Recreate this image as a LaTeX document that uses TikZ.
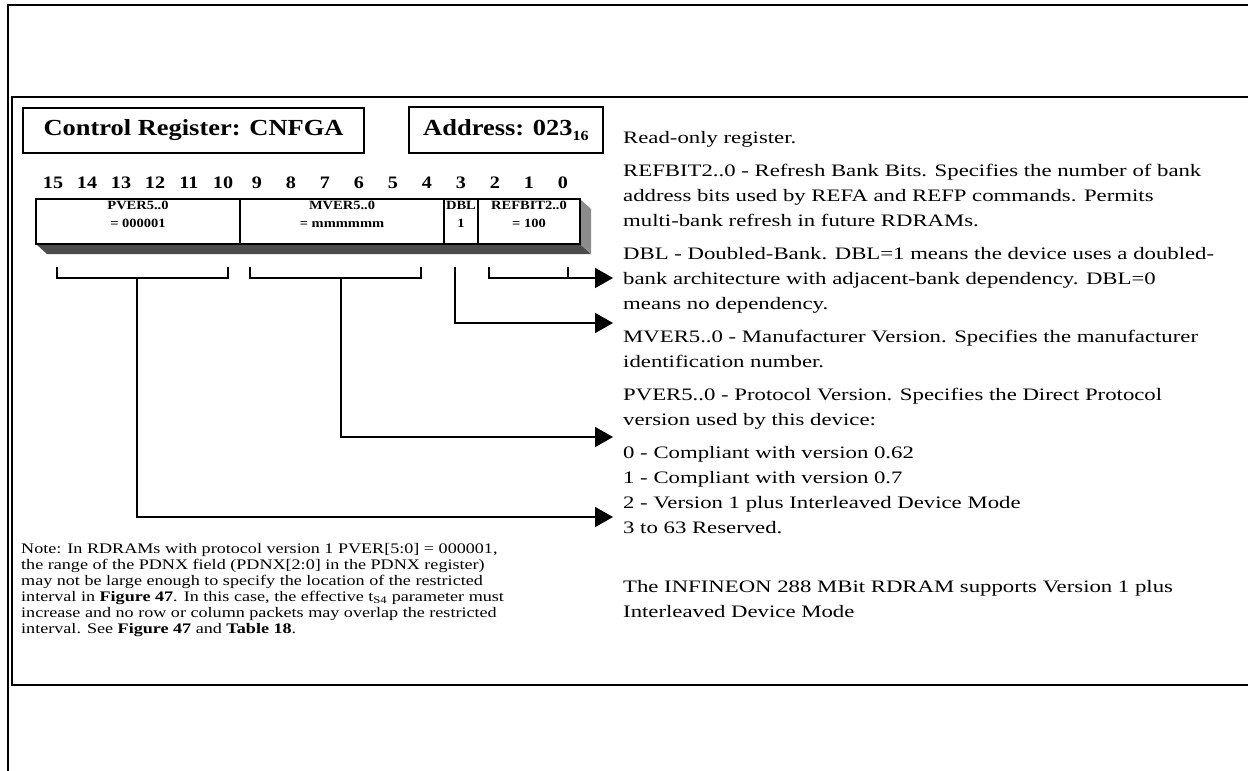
\documentclass[tikz,border=0pt]{standalone}
\usepackage{fontspec}
\setmainfont{Liberation Serif}
\newfontfamily\regfont[FakeStretch=1.3]{Liberation Serif}
\newfontfamily\notefont[FakeStretch=1.24]{Liberation Serif}
\newfontfamily\boldfont[FakeStretch=1.15]{Liberation Serif}
\usetikzlibrary{arrows.meta}
\definecolor{shadedark}{gray}{0.3}
\definecolor{shadelight}{gray}{0.55}

\begin{document}
\begin{tikzpicture}[x=1pt, y=-1pt,
    frame/.style={line width=2pt},
    titlebox/.style={draw, line width=1.8pt, inner sep=0pt, font=\boldfont\bfseries\fontsize{23}{23}\selectfont},
    bitnum/.style={inner sep=0pt, font=\boldfont\bfseries\fontsize{17.5}{17.5}\selectfont},
    field/.style={inner sep=0pt, align=center, font=\boldfont\bfseries\fontsize{12.6}{18}\selectfont},
    link/.style={line width=1.8pt},
    pointer/.style={line width=1.8pt, -{Triangle[length=18pt,width=20pt]}},
    desc/.style={anchor=base west, inner sep=0pt, font=\regfont\fontsize{17.5}{25}\selectfont},
    note/.style={anchor=base west, inner sep=0pt, font=\notefont\fontsize{14.6}{16}\selectfont}
]
    \useasboundingbox (0,0) rectangle (1248,771);

    % Frames
    \draw[frame] (1248,5) -- (7.5,5) -- (7.5,771);
    \draw[frame] (1248,97) -- (12,97) -- (12,685) -- (1248,685);

    % Title boxes
    \node[titlebox, minimum width=341pt, minimum height=45pt] (title) at (193.5,130.5) {Control Register: CNFGA};
    \node[titlebox, minimum width=194pt, minimum height=46pt] (address) at (506,130) {Address: 023\raisebox{-5pt}{\fontsize{14}{14}\selectfont 16}};

    % Bit numbers
    \foreach \b in {0,...,15} {
        \node[bitnum] (bit-\b) at ({53+(15-\b)*34},183) {\b};
    }

    % Register with shadow
    \fill[shadedark] (36,244) -- (580,244) -- (591,254) -- (47,254) -- cycle;
    \fill[shadelight] (580,199) -- (591,209) -- (591,254) -- (580,244) -- cycle;
    \draw[link] (36,199) rectangle (580,244);
    \foreach \x in {240,444,478} {
        \draw[link] (\x,199) -- (\x,244);
    }
    \foreach \name/\x/\txt in {pver/138/{PVER5..0\\= 000001}, mver/342/{MVER5..0\\= mmmmmm}, dbl/461/{DBL\\1}, refbit/529/{REFBIT2..0\\= 100}} {
        \node[field] (\name) at (\x,214) {\txt};
    }

    % Brackets
    \coordinate (pver-stem) at (137,278);
    \coordinate (mver-stem) at (341,278);
    \coordinate (dbl-stem) at (455,267);
    \coordinate (refbit-stem) at (489,267);
    \coordinate (pver-tip) at (613,517);
    \coordinate (mver-tip) at (613,437);
    \coordinate (dbl-tip) at (613,323);
    \coordinate (refbit-tip) at (613,278);
    \draw[link] (57,267) -- (57,278) -- (228,278) -- (228,267);
    \draw[link] (250,267) -- (250,278) -- (421,278) -- (421,267);
    \draw[link] (568,267) -- (568,278);

    % Arrows
    \draw[pointer] (refbit-stem) |- (refbit-tip);
    \draw[pointer] (dbl-stem) |- (dbl-tip);
    \draw[pointer] (mver-stem) |- (mver-tip);
    \draw[pointer] (pver-stem) |- (pver-tip);

    % Descriptions
    \foreach \i/\y/\txt in {
        1/143/{Read-only register.},
        2/176/{REFBIT2..0 - Refresh Bank Bits. Specifies the number of bank},
        3/201/{address bits used by REFA and REFP commands. Permits},
        4/226/{multi-bank refresh in future RDRAMs.},
        5/259/{DBL - Doubled-Bank. DBL=1 means the device uses a doubled-},
        6/284/{bank architecture with adjacent-bank dependency. DBL=0},
        7/309/{means no dependency.},
        8/342/{MVER5..0 - Manufacturer Version. Specifies the manufacturer},
        9/367/{identification number.},
        10/400/{PVER5..0 - Protocol Version. Specifies the Direct Protocol},
        11/425/{version used by this device:},
        12/458/{0 - Compliant with version 0.62},
        13/483/{1 - Compliant with version 0.7},
        14/508/{2 - Version 1 plus Interleaved Device Mode},
        15/533/{3 to 63 Reserved.},
        16/592/{The INFINEON 288 MBit RDRAM supports Version 1 plus},
        17/617/{Interleaved Device Mode}} {
        \node[desc] (desc-\i) at (623,\y) {\txt};
    }

    % Note
    \foreach \i/\y/\txt in {
        1/553/{Note: In RDRAMs with protocol version 1 PVER[5:0] = 000001,},
        2/569/{the range of the PDNX field (PDNX[2:0] in the PDNX register)},
        3/585/{may not be large enough to specify the location of the restricted},
        4/601/{interval in \textbf{Figure 47}. In this case, the effective t\textsubscript{S4} parameter must},
        5/617/{increase and no row or column packets may overlap the restricted},
        6/633/{interval. See \textbf{Figure 47} and \textbf{Table 18}.}} {
        \node[note] (note-\i) at (21,\y) {\txt};
    }
\end{tikzpicture}
\end{document}
